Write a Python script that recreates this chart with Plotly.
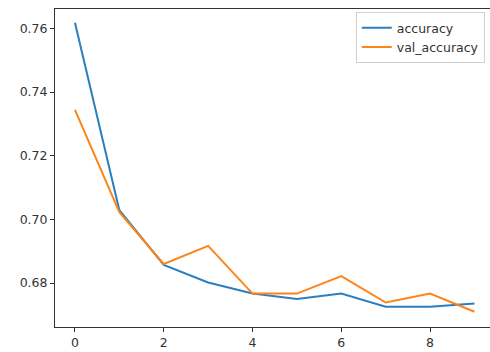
import plotly.graph_objects as go

epochs = [0, 1, 2, 3, 4, 5, 6, 7, 8, 9]
accuracy = [0.7618, 0.7029, 0.6857, 0.6802, 0.6767, 0.6750, 0.6767, 0.6726, 0.6726, 0.6736]
val_accuracy = [0.7344, 0.7023, 0.6860, 0.6917, 0.6767, 0.6767, 0.6822, 0.6739, 0.6767, 0.6710]
x_ticks = [0, 2, 4, 6, 8]
y_ticks = [0.68, 0.70, 0.72, 0.74, 0.76]

fig = go.Figure()
fig.add_trace(go.Scatter(x=epochs, y=accuracy, mode="lines", name="accuracy",
                         line=dict(color="#2a7fbf", width=2)))
fig.add_trace(go.Scatter(x=epochs, y=val_accuracy, mode="lines", name="val_accuracy",
                         line=dict(color="#ff8418", width=2)))

fig.update_layout(
    width=490, height=352,
    margin=dict(l=55, r=0, t=9, b=25),
    paper_bgcolor="white", plot_bgcolor="white",
    font=dict(family="DejaVu Sans", size=12.5, color="#333333"),
    legend=dict(x=0.988, y=0.99, xanchor="right", yanchor="top",
                bordercolor="#d0d0d0", borderwidth=1, bgcolor="white",
                font=dict(size=12.5, color="#333333"), tracegroupgap=0),
    showlegend=True,
)
fig.update_xaxes(range=[-0.45, 9.35], tickvals=x_ticks, ticktext=[str(t) for t in x_ticks],
                 showgrid=False, zeroline=False, showline=True, linecolor="#333333",
                 linewidth=1, mirror=True, ticks="outside", ticklen=4, tickcolor="#333333")
fig.update_yaxes(range=[0.6662, 0.7661], tickvals=y_ticks, ticktext=[f"{t:.2f}" for t in y_ticks],
                 showgrid=False, zeroline=False, showline=True, linecolor="#333333",
                 linewidth=1, ticks="outside", ticklen=4, tickcolor="#333333")

fig.write_html("out.html")
